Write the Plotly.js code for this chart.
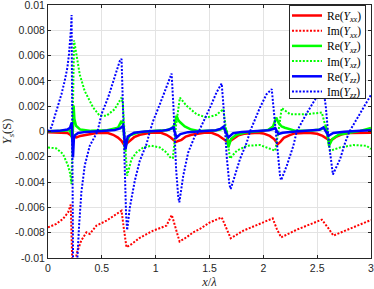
<!DOCTYPE html>
<html>
<head>
<meta charset="utf-8">
<script src="https://cdn.plot.ly/plotly-3.0.1.min.js"></script>
<style>html,body{margin:0;padding:0;background:#fff;}#chart{width:374px;height:289px;}</style>
</head>
<body>
<div id="chart"></div>
<script>
// ---- data (x in units of lambda, admittance in S) ----
const reYxx_x = [0, 0.1, 0.18, 0.205, 0.218, 0.228, 0.24, 0.264, 0.3, 0.357, 0.45, 0.55, 0.605, 0.65, 0.683, 0.71, 0.73, 0.76, 0.8, 0.853, 0.95, 1.05, 1.1, 1.14, 1.163, 1.188, 1.21, 1.24, 1.28, 1.334, 1.45, 1.52, 1.58, 1.62, 1.65, 1.675, 1.7, 1.73, 1.77, 1.82, 1.95, 2.0, 2.06, 2.1, 2.134, 2.16, 2.19, 2.24, 2.29, 2.42, 2.5, 2.55, 2.59, 2.62, 2.645, 2.68, 2.73, 2.8, 3.0];
const reYxx_y = [-0.00005, -0.00006, -0.00012, -0.00025, -0.0004, -0.00045, -0.0004, -0.00047, -0.00035, -0.00026, -0.00012, -0.0001, -0.00026, -0.00048, -0.00073, -0.0011, -0.00095, -0.00073, -0.00045, -0.00026, -0.0001, -0.0001, -0.00026, -0.00048, -0.00066, -0.00084, -0.00075, -0.00066, -0.0004, -0.00026, -0.0001, -0.0001, -0.0003, -0.00055, -0.00075, -0.00087, -0.0007, -0.0005, -0.0003, -0.00018, -0.0001, -0.00015, -0.00035, -0.0006, -0.001, -0.0008, -0.0005, -0.0003, -0.00015, -0.0001, -0.00018, -0.00035, -0.00055, -0.00073, -0.0006, -0.0004, -0.00022, -0.00012, -0.0001];

const imYxx_x = [0, 0.078, 0.14, 0.186, 0.211, 0.218, 0.225, 0.232, 0.258, 0.264, 0.31, 0.357, 0.388, 0.45, 0.543, 0.636, 0.683, 0.705, 0.729, 0.776, 0.853, 0.977, 1.1, 1.15, 1.19, 1.222, 1.287, 1.349, 1.411, 1.504, 1.613, 1.655, 1.697, 1.814, 1.969, 2.087, 2.125, 2.165, 2.311, 2.434, 2.543, 2.6, 2.651, 2.8, 3.0];
const imYxx_y = [-0.00758, -0.0073, -0.0069, -0.0064, -0.00578, -0.008, -0.0105, -0.0125, -0.0125, -0.0097, -0.0086, -0.00797, -0.0081, -0.00744, -0.00705, -0.00652, -0.00626, -0.0077, -0.00915, -0.0089, -0.0084, -0.00784, -0.00744, -0.0066, -0.0077, -0.0087, -0.00836, -0.00797, -0.0077, -0.00718, -0.00679, -0.0076, -0.00844, -0.00784, -0.00731, -0.00687, -0.0077, -0.00837, -0.00776, -0.00736, -0.00697, -0.0076, -0.00823, -0.0077, -0.00700];

const reYxz_x = [0, 0.15, 0.2, 0.215, 0.228, 0.238, 0.245, 0.26, 0.3, 0.4, 0.55, 0.65, 0.683, 0.7, 0.715, 0.73, 0.76, 0.85, 1.0, 1.1, 1.15, 1.175, 1.194, 1.21, 1.225, 1.27, 1.33, 1.41, 1.55, 1.6, 1.64, 1.66, 1.675, 1.7, 1.75, 1.85, 2.0, 2.05, 2.09, 2.12, 2.14, 2.17, 2.2, 2.3, 2.45, 2.53, 2.58, 2.595, 2.61, 2.64, 2.7, 2.8, 2.9, 3.0];
const reYxz_y = [0.00002, 0.00005, 0.00012, -0.0002, -0.0007, 0.00205, 0.001, 0.00045, 0.00015, 0.00005, 0.0001, 0.0003, 0.00084, 0.0005, -0.0015, -0.0008, -0.0003, -0.00005, 0.00005, 0.0001, 0.00025, 0.0005, 0.00124, 0.0009, 0.00075, 0.0004, 0.00015, 0.00003, 0.00008, 0.00015, 0.0003, 0.0, -0.00126, -0.0006, -0.00025, -0.00005, 0.00005, 0.00015, 0.0004, 0.0011, 0.0007, 0.0004, 0.0003, 0.00005, 0.00008, 0.00015, 0.00035, 0.0, -0.00113, -0.0006, -0.00025, -0.0001, 0.00005, 0.00027];

const imYxz_x = [0, 0.078, 0.14, 0.186, 0.205, 0.218, 0.226, 0.234, 0.242, 0.264, 0.295, 0.341, 0.419, 0.48, 0.543, 0.62, 0.683, 0.695, 0.715, 0.735, 0.775, 0.822, 0.884, 0.962, 1.039, 1.101, 1.14, 1.16, 1.19, 1.225, 1.287, 1.38, 1.473, 1.566, 1.628, 1.653, 1.69, 1.753, 1.846, 1.969, 2.062, 2.11, 2.14, 2.171, 2.248, 2.404, 2.543, 2.575, 2.62, 2.713, 2.837, 2.96, 3.0];
const imYxz_y = [-0.00126, -0.00134, -0.00179, -0.0027, -0.0033, -0.00415, -0.001, 0.004, 0.0072, 0.0061, 0.0045, 0.0032, 0.0019, 0.00124, 0.00124, 0.00177, 0.00268, 0.0022, -0.001, -0.0035, -0.00218, -0.00166, -0.00126, -0.00113, -0.00126, -0.00166, -0.0021, -0.0021, 0.0005, 0.00268, 0.00203, 0.00137, 0.0011, 0.00132, 0.00177, 0.0003, -0.00213, -0.00152, -0.00113, -0.00107, -0.00139, -0.00152, 0.0, 0.00185, 0.00137, 0.00137, 0.0015, 0.0005, -0.00152, -0.00126, -0.00107, -0.00113, -0.00139];

const reYzz_x = [0, 0.1, 0.18, 0.205, 0.22, 0.232, 0.24, 0.25, 0.28, 0.35, 0.5, 0.62, 0.67, 0.7, 0.72, 0.74, 0.8, 0.9, 1.05, 1.12, 1.163, 1.194, 1.23, 1.3, 1.45, 1.56, 1.6, 1.628, 1.675, 1.72, 1.8, 1.95, 2.05, 2.09, 2.11, 2.14, 2.18, 2.3, 2.45, 2.52, 2.558, 2.605, 2.65, 2.75, 2.9, 3.0];
const reYzz_y = [0.00002, 0.00005, 0.00015, 0.0003, 0.0007, -0.00205, -0.0006, -0.0003, -0.00012, -0.00003, 0.00003, 0.00012, 0.00025, 0.00045, -0.0014, -0.0004, -0.0001, 0.0, 0.00005, 0.00013, 0.00032, -0.00047, -0.0002, -0.00005, 0.00003, 0.0001, 0.0002, 0.00037, -0.00047, -0.00013, -0.00003, 0.00003, 0.0001, 0.0002, 0.00027, -0.0002, -0.0001, 0.0, 0.00005, 0.00013, 0.00032, -0.00034, -0.00012, -0.00002, 0.00005, 0.0001];

const imYzz_x = [0, 0.031, 0.078, 0.125, 0.155, 0.18, 0.195, 0.208, 0.214, 0.219, 0.224, 0.229, 0.234, 0.268, 0.273, 0.289, 0.31, 0.341, 0.388, 0.46, 0.497, 0.558, 0.62, 0.667, 0.683, 0.695, 0.71, 0.725, 0.735, 0.76, 0.806, 0.853, 0.915, 0.946, 0.977, 1.039, 1.101, 1.148, 1.165, 1.19, 1.21, 1.22, 1.256, 1.302, 1.365, 1.4, 1.5, 1.566, 1.613, 1.63, 1.66, 1.685, 1.697, 1.737, 1.783, 1.846, 1.876, 1.969, 2.03, 2.078, 2.1, 2.13, 2.155, 2.165, 2.218, 2.279, 2.31, 2.4, 2.5, 2.556, 2.58, 2.61, 2.635, 2.646, 2.713, 2.76, 2.8, 2.9, 3.0];
const imYzz_y = [0.0, 0.00032, 0.00163, 0.00295, 0.004, 0.00505, 0.0061, 0.0072, 0.0082, 0.0092, 0.004, -0.002, -0.012, -0.012, -0.01, -0.0074, -0.0048, -0.0027, -0.00113, 0.0, 0.00137, 0.00268, 0.00426, 0.00558, 0.00575, 0.003, -0.002, -0.0065, -0.0078, -0.006, -0.0039, -0.0023, -0.001, 0.0, 0.00084, 0.00216, 0.00347, 0.00458, 0.002, -0.003, -0.0052, -0.0056, -0.0035, -0.00166, -0.00034, 0.0, 0.0018, 0.0031, 0.0038, 0.002, -0.002, -0.0042, -0.00455, -0.0035, -0.00218, -0.00087, 0.0, 0.0019, 0.00295, 0.00335, 0.0015, -0.0015, -0.0035, -0.00385, -0.0027, -0.00113, 0.0, 0.0014, 0.0028, 0.0034, 0.002, -0.001, -0.003, -0.0034, -0.00218, -0.00087, 0.0, 0.0015, 0.0029];

const xTicks = [0, 0.5, 1, 1.5, 2, 2.5, 3];
const xTickText = ['0', '0.5', '1', '1.5', '2', '2.5', '3'];
const yTicks = [-0.01, -0.008, -0.006, -0.004, -0.002, 0, 0.002, 0.004, 0.006, 0.008, 0.01];
const yTickText = ['-0.01', '-0.008', '-0.006', '-0.004', '-0.002', '0', '0.002', '0.004', '0.006', '0.008', '0.01'];

const names = ['Re(<i>Y</i><sub><i>xx</i></sub>)', 'Im(<i>Y</i><sub><i>xx</i></sub>)',
               'Re(<i>Y</i><sub><i>xz</i></sub>)', 'Im(<i>Y</i><sub><i>xz</i></sub>)',
               'Re(<i>Y</i><sub><i>zz</i></sub>)', 'Im(<i>Y</i><sub><i>zz</i></sub>)'];

const RED = '#ff0000', GREEN = '#00ff00', BLUE = '#0000ff';
function solid(x, y, c, n) { return {x: x, y: y, name: n, mode: 'lines', line: {color: c, width: 2.5}}; }
function dotted(x, y, c, n) { return {x: x, y: y, name: n, mode: 'lines', line: {color: c, width: 2, dash: '2px,1.6px'}}; }

const traces = [
  solid(reYxx_x, reYxx_y, RED, names[0]),
  dotted(imYxx_x, imYxx_y, RED, names[1]),
  solid(reYxz_x, reYxz_y, GREEN, names[2]),
  dotted(imYxz_x, imYxz_y, GREEN, names[3]),
  solid(reYzz_x, reYzz_y, BLUE, names[4]),
  dotted(imYzz_x, imYzz_y, BLUE, names[5])
];

const axisCommon = {
  showline: true, linecolor: '#262626', linewidth: 1, mirror: 'ticks',
  ticks: 'inside', ticklen: 3, tickcolor: '#262626', tickwidth: 1,
  showgrid: true, gridcolor: '#e3e3e3', gridwidth: 1, zeroline: false,
  ticklabeloverflow: 'allow',
  tickfont: {family: 'Liberation Sans, Arial, sans-serif', size: 10.5, color: '#262626'}
};

const layout = {
  width: 374, height: 289,
  margin: {l: 48, r: 3, t: 5, b: 31},
  paper_bgcolor: '#ffffff', plot_bgcolor: '#ffffff',
  showlegend: true,
  xaxis: Object.assign({}, axisCommon, {
    range: [0, 3.000001], tickmode: 'array', tickvals: xTicks, ticktext: xTickText,
    title: {text: '<i>x</i>/<i>λ</i>', standoff: 7, font: {family: 'Liberation Serif, DejaVu Serif, serif', size: 12.5, color: '#262626'}}
  }),
  yaxis: Object.assign({}, axisCommon, {
    range: [-0.0100001, 0.0100001], tickmode: 'array', tickvals: yTicks, ticktext: yTickText,
    title: {text: '<i>Y</i><sub><i>s</i></sub>(S)', standoff: 4, font: {family: 'Liberation Serif, DejaVu Serif, serif', size: 12.5, color: '#262626'}}
  }),
  legend: {
    x: 0.981, xanchor: 'right', y: 0.996, yanchor: 'top',
    bgcolor: '#ffffff', bordercolor: '#262626', borderwidth: 1,
    font: {family: 'Liberation Serif, DejaVu Serif, serif', size: 11.5, color: '#000000'},
    tracegroupgap: 0
  }
};

const gd = document.getElementById('chart');
Plotly.newPlot(gd, traces, layout, {displayModeBar: false, staticPlot: true}).then(function () {
  // compact the legend rows to match the reference spacing
  const leg = gd.querySelector('g.legend');
  if (!leg) return;
  const items = leg.querySelectorAll('g.traces');
  const top = 10.5, step = 15.2, shiftX = -3;
  let maxR = 0;
  items.forEach(function (g, i) {
    g.setAttribute('transform', 'translate(' + (1 + shiftX) + ',' + (top + step * i) + ')');
    const t = g.querySelector('text.legendtext');
    if (t) {
      const bb = t.getBBox();
      maxR = Math.max(maxR, 1 + shiftX + bb.x + bb.width);
    }
  });
  const W = Math.round(maxR + 4), H = 93;
  const bg = leg.querySelector('rect.bg');
  if (bg) { bg.setAttribute('width', W); bg.setAttribute('height', H); }
  const clipRects = gd.querySelectorAll('clipPath[id^="legend"] rect');
  clipRects.forEach(function (r) { r.setAttribute('width', W); r.setAttribute('height', H); });
  leg.setAttribute('transform', 'translate(' + (365 - W) + ',5)');
});
</script>
</body>
</html>
